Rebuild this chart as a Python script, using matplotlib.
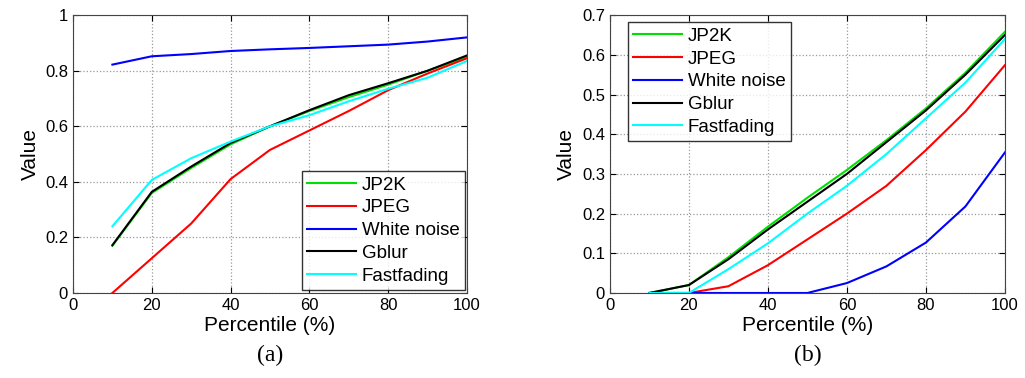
import matplotlib
matplotlib.use("Agg")
import matplotlib.pyplot as plt

# percentile positions
pct = [10, 20, 30, 40, 50, 60, 70, 80, 90, 100]
names = ["JP2K", "JPEG", "White noise", "Gblur", "Fastfading"]
colors = ["#00e000", "#ff0000", "#0000ff", "#000000", "#00ffff"]

# panel (a)
a_jp2k = [0.17, 0.36, 0.45, 0.535, 0.60, 0.655, 0.705, 0.75, 0.80, 0.85]
a_jpeg = [0.0, 0.125, 0.25, 0.41, 0.515, 0.585, 0.655, 0.73, 0.79, 0.845]
a_wn = [0.822, 0.852, 0.86, 0.871, 0.877, 0.882, 0.888, 0.894, 0.905, 0.92]
a_gblur = [0.172, 0.364, 0.455, 0.54, 0.60, 0.658, 0.712, 0.755, 0.80, 0.855]
a_ff = [0.24, 0.407, 0.485, 0.545, 0.60, 0.64, 0.69, 0.735, 0.775, 0.835]

# panel (b)
b_jp2k = [0.0, 0.02, 0.09, 0.167, 0.24, 0.31, 0.385, 0.465, 0.555, 0.658]
b_jpeg = [0.0, 0.0, 0.017, 0.07, 0.135, 0.20, 0.27, 0.36, 0.457, 0.574]
b_wn = [0.0, 0.0, 0.0, 0.0, 0.0, 0.025, 0.067, 0.127, 0.218, 0.354]
b_gblur = [0.0, 0.02, 0.085, 0.16, 0.23, 0.30, 0.38, 0.46, 0.55, 0.65]
b_ff = [0.0, 0.0, 0.06, 0.125, 0.20, 0.27, 0.35, 0.44, 0.53, 0.64]

plt.rcParams['font.family'] = ['Liberation Sans', 'DejaVu Sans']

fig = plt.figure(figsize=(10.25, 3.78), dpi=100)
ax1 = fig.add_axes([0.0712, 0.2249, 0.3844, 0.735])
ax2 = fig.add_axes([0.595, 0.2249, 0.3854, 0.735])

def panel(ax, series, ymax, yticks, loc, anchor, caption):
    for s, n, c in zip(series, names, colors):
        ax.plot(pct, s, color=c, lw=1.5, label=n)
    ax.set_xlim(0, 100)
    ax.set_ylim(0, ymax)
    ax.set_xticks([0, 20, 40, 60, 80, 100])
    ax.set_yticks(yticks)
    ax.set_yticklabels(['{:g}'.format(v) for v in yticks])
    ax.grid(True, ls=':', color='#999999', lw=0.9)
    ax.tick_params(direction='in', labelsize=12, length=4, top=True, right=True)
    for sp in ax.spines.values():
        sp.set_color('#444444')
    ax.set_xlabel('Percentile (%)', fontsize=15, labelpad=2)
    ax.set_ylabel('Value', fontsize=15, labelpad=4)
    leg = ax.legend(loc=loc, bbox_to_anchor=anchor, fontsize=13.5, frameon=True,
                    fancybox=False, edgecolor='black', handlelength=2.6,
                    borderpad=0.3, labelspacing=0.3, handletextpad=0.3,
                    borderaxespad=0.0)
    leg.get_frame().set_linewidth(1.0)
    ax.text(0.5, -0.225, caption, transform=ax.transAxes, ha='center', va='center',
            fontsize=17, family='Liberation Serif')

panel(ax1, [a_jp2k, a_jpeg, a_wn, a_gblur, a_ff], 1.0,
      [0, 0.2, 0.4, 0.6, 0.8, 1.0], 'lower right', (0.995, 0.01), '(a)')
panel(ax2, [b_jp2k, b_jpeg, b_wn, b_gblur, b_ff], 0.7,
      [0, 0.1, 0.2, 0.3, 0.4, 0.5, 0.6, 0.7], 'upper left', (0.045, 0.975), '(b)')

fig.savefig('out.png', dpi=100)
